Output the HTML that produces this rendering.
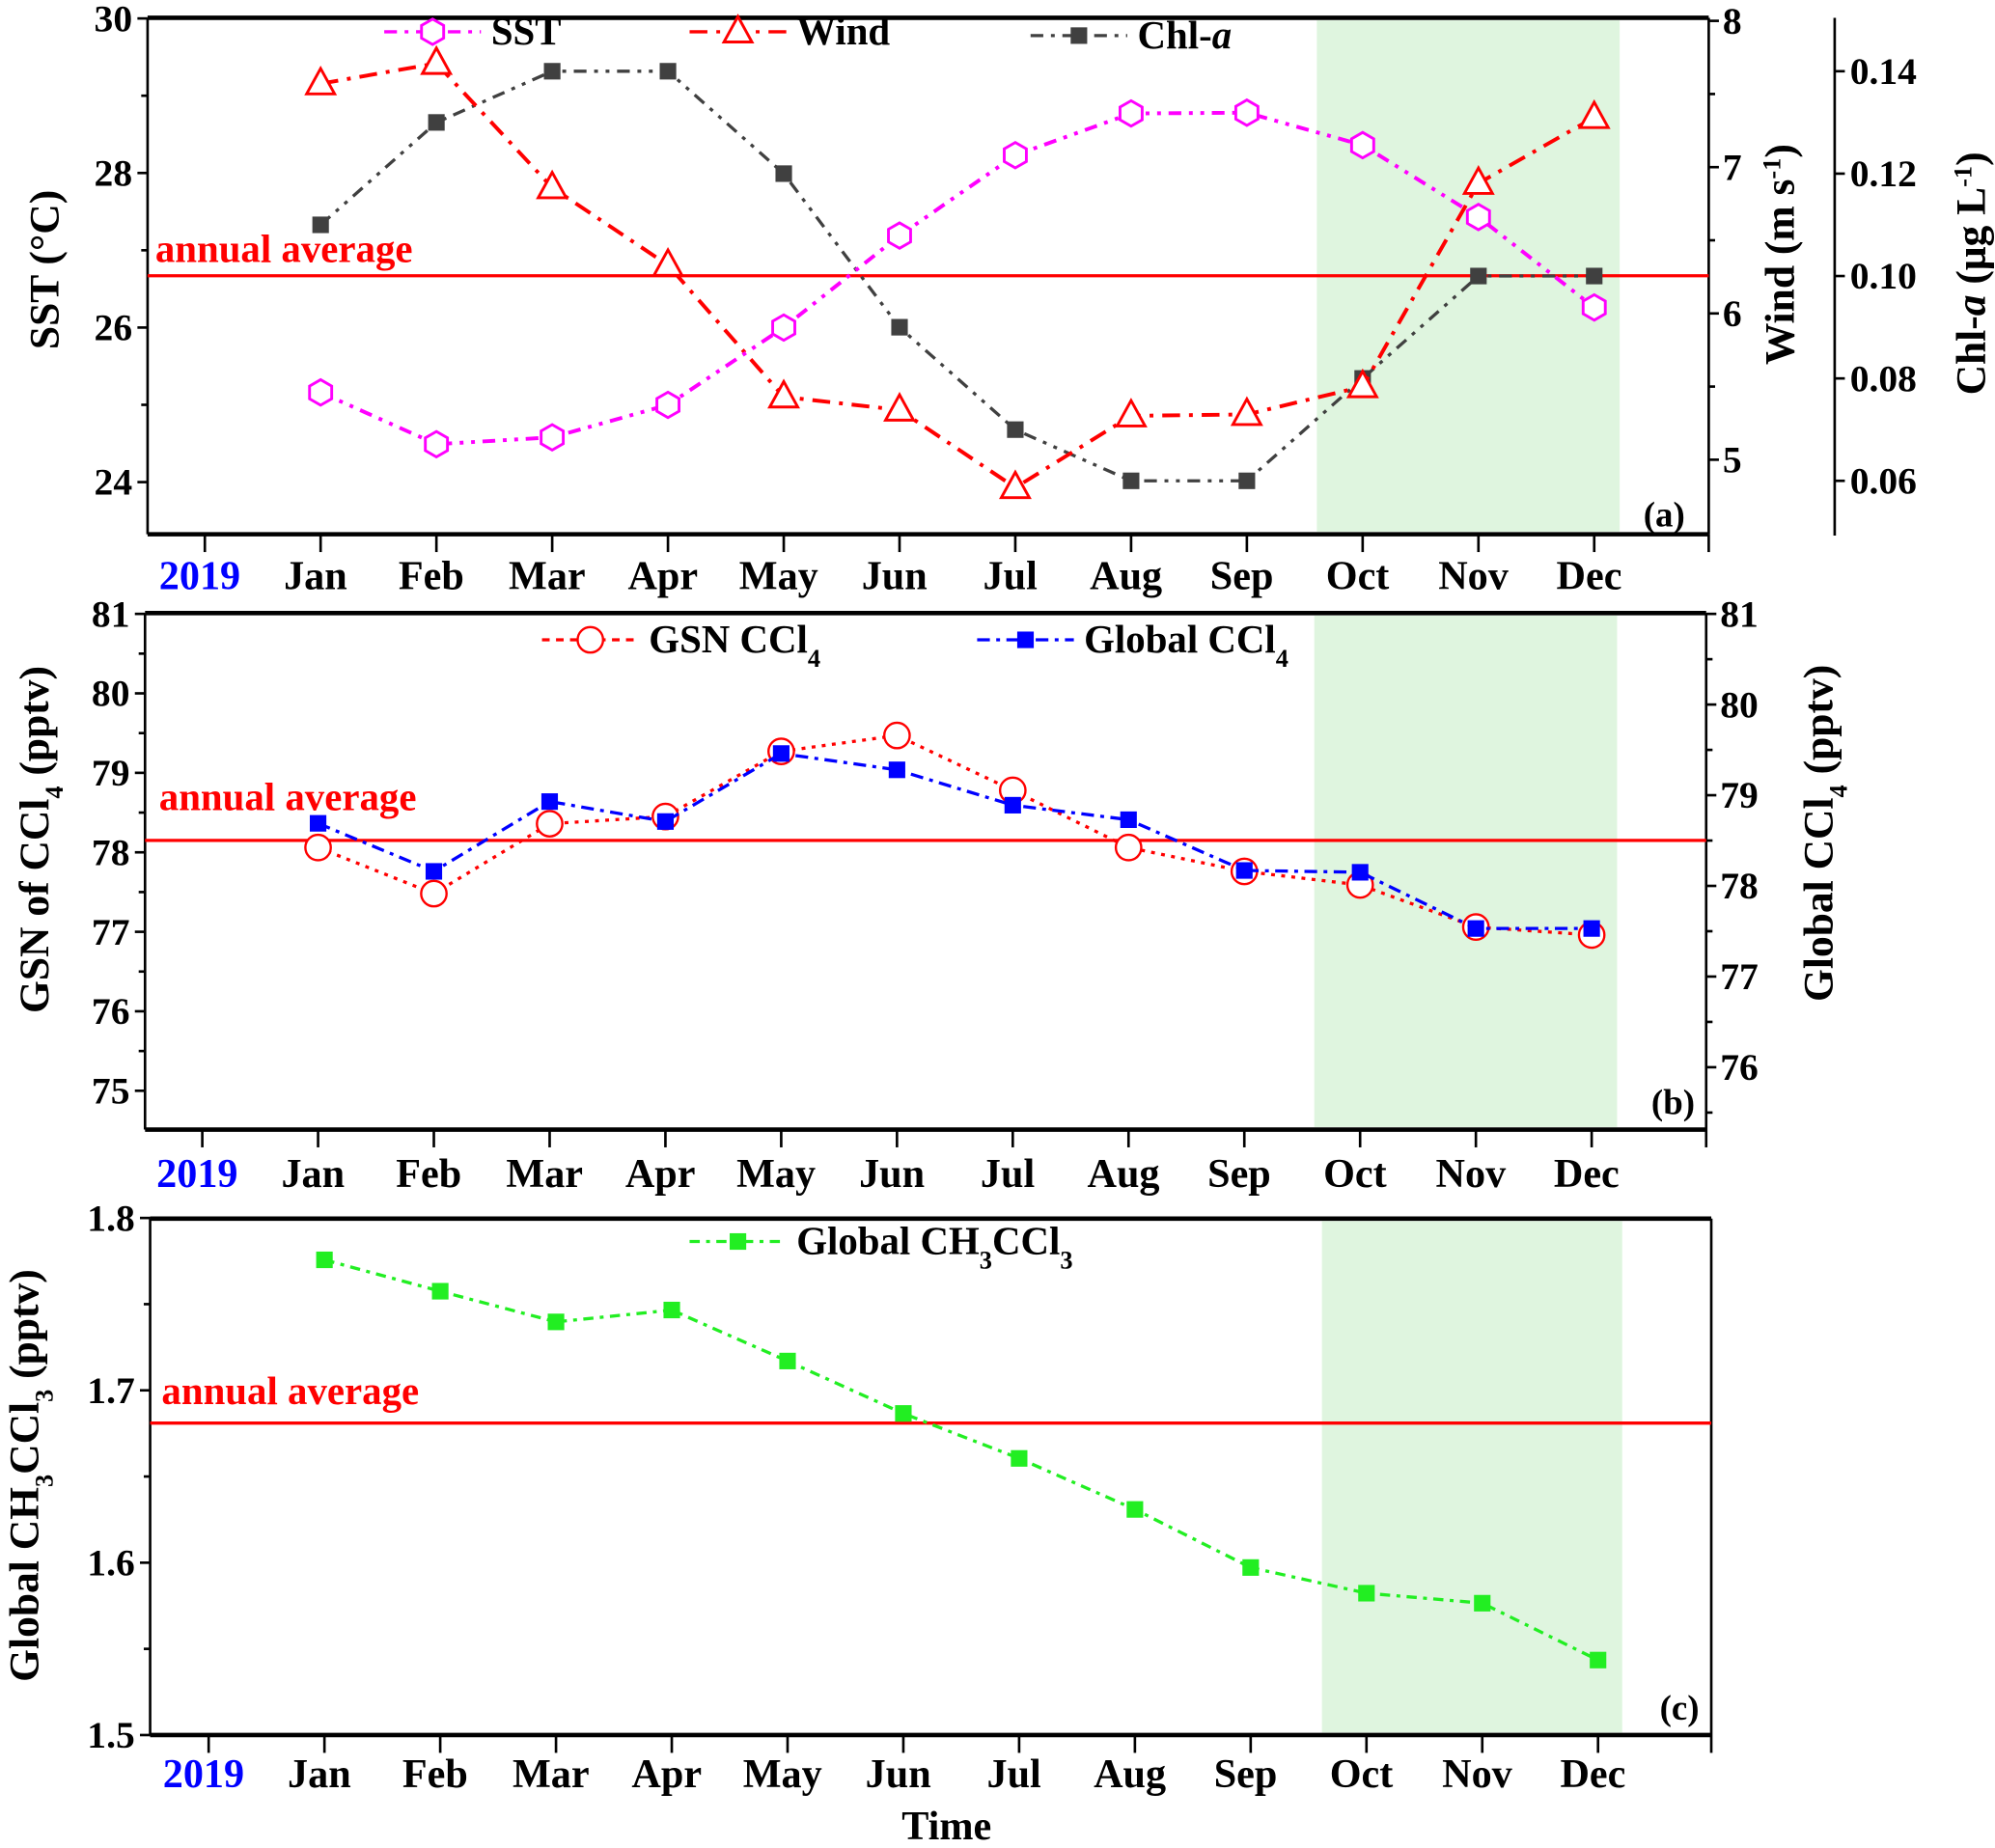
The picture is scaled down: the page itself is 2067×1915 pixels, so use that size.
<!DOCTYPE html>
<html><head><meta charset="utf-8"><style>
html,body{margin:0;padding:0;background:#fff;}
svg, svg text{font-family:"Liberation Serif","Times New Roman",serif;font-weight:bold;}
</style></head><body>
<svg id="chart" xmlns="http://www.w3.org/2000/svg" width="2067" height="1910" viewBox="0 0 1568 1449" preserveAspectRatio="none" font-family="Liberation Serif, serif" font-weight="bold"></svg>
<script>
const months = ["Jan","Feb","Mar","Apr","May","Jun","Jul","Aug","Sep","Oct","Nov","Dec"];
const sstValues = [25.16,24.49,24.58,25.0,26.0,27.19,28.23,28.77,28.78,28.36,27.43,26.26];
const windValues = [7.57,7.71,6.86,6.33,5.43,5.34,4.81,5.30,5.31,5.50,6.89,7.34];
const chlValues = [0.110,0.130,0.140,0.140,0.120,0.090,0.070,0.060,0.060,0.080,0.100,0.100];
const gsnValues = [78.06,77.48,78.36,78.45,79.27,79.47,78.78,78.06,77.76,77.59,77.06,76.96];
const globalCcl4Values = [78.69,78.16,78.93,78.71,79.46,79.28,78.89,78.73,78.17,78.15,77.53,77.53];
const ch3ccl3Values = [1.7757,1.7575,1.7397,1.7466,1.717,1.6866,1.6605,1.6309,1.5972,1.5823,1.5765,1.5435];
const sstTicks = [24,26,28,30];
const windTicks = [5,6,7,8];
const chlTicks = ["0.06","0.08","0.10","0.12","0.14"];
const gsnTicks = [75,76,77,78,79,80,81];
const globalTicks = [76,77,78,79,80,81];
const ch3Ticks = ["1.5","1.6","1.7","1.8"];
const sstAvg = 26.67, gsnAvg = 78.15, ch3Avg = 1.681;

const svg = document.getElementById('chart');
const NS = "http://www.w3.org/2000/svg";
const FONT = "Liberation Serif, serif";
function mk(tag, attrs, parent, text){
  const e = document.createElementNS(NS, tag);
  for (const k in attrs) e.setAttribute(k, attrs[k]);
  if (tag === 'text'){ e.setAttribute('font-family', FONT); e.setAttribute('font-weight','bold'); }
  if (text !== undefined) e.textContent = text;
  (parent || svg).appendChild(e);
  return e;
}
function lin(d0,d1,r0,r1){return v => r0 + (v-d0)*(r1-r0)/(d1-d0);}

function marker(type, x, y, color, g){
  let e;
  if (type === 'hex'){
    const r=10, pts=[];
    for (let i=0;i<6;i++){const a=Math.PI/2+i*Math.PI/3;pts.push((x+r*Math.cos(a)).toFixed(1)+','+(y+r*Math.sin(a)).toFixed(1));}
    e = mk('polygon',{points:pts.join(' '),fill:'#fff',stroke:color,'stroke-width':2.2},g);
  } else if (type === 'tri'){
    e = mk('polygon',{points:`${x},${y-12} ${x-11},${y+8} ${x+11},${y+8}`,fill:'#fff',stroke:color,'stroke-width':2.2},g);
  } else if (type === 'sq'){
    e = mk('rect',{x:x-6.5,y:y-6.5,width:13,height:13,fill:color},g);
  } else if (type === 'circ'){
    e = mk('circle',{cx:x,cy:y,r:10,fill:'#fff',stroke:color,'stroke-width':1.8},g);
  }
  return e;
}

function series(name, vals, xf, yf, color, dash, mtype, width){
  const g = mk('g',{});
  
  
  const pts = vals.map((v,i)=>xf(i).toFixed(1)+','+yf(v).toFixed(1)).join(' ');
  const l = mk('polyline',{points:pts,fill:'none',stroke:color,'stroke-width':width||2.5,'stroke-dasharray':dash},g);
  
  
  vals.forEach((v,i)=>{
    const m = marker(mtype, xf(i), yf(v), color, g);
    
    
  });
}

function panel(o){
  const g = mk('g',{});
  
  
  const sh = mk('rect',{x:o.shadeX0,y:o.top+2,width:o.shadeX1-o.shadeX0,height:o.bottom-o.top-4,fill:'#dff5df'},g);
  
  
  mk('line',{x1:o.left,y1:o.top,x2:o.right,y2:o.top,stroke:'#000','stroke-width':3.5},g);
  mk('line',{x1:o.left,y1:o.bottom,x2:o.right,y2:o.bottom,stroke:'#000','stroke-width':3.5},g);
  mk('line',{x1:o.left,y1:o.top,x2:o.left,y2:o.bottom,stroke:'#000','stroke-width':2},g);
  mk('line',{x1:o.right,y1:o.top,x2:o.right,y2:o.bottom,stroke:'#000','stroke-width':2},g);
  const xt = mk('g',{},g);
  
  
  const tickXs = [o.x0 - o.step].concat(months.map((m,i)=>o.x0+i*o.step)).concat([o.right]);
  tickXs.forEach(x=>mk('line',{x1:x,y1:o.bottom,x2:x,y2:o.bottom+14,stroke:'#000','stroke-width':2},xt));
  const yr = mk('text',{x:o.x0-o.step-4,y:o.labY,'text-anchor':'middle','font-size':32,fill:'#0000ff'},xt,'2019');
  
  
  months.forEach((m,i)=>{
    const t = mk('text',{x:o.x0+i*o.step-4,y:o.labY,'text-anchor':'middle','font-size':32},xt,m);
    
    
  });
  return g;
}

function yAxisLeft(g, ticks, yf, x, minor){
  const ax = mk('g',{},g);
  
  
  ticks.forEach(t=>{
    const y = yf(parseFloat(t));
    mk('line',{x1:x-8,y1:y,x2:x,y2:y,stroke:'#000','stroke-width':2},ax);
    mk('text',{x:x-12,y:y+10,'text-anchor':'end','font-size':30},ax,String(t));
  });
  minor.forEach(v=>{const y=yf(v);mk('line',{x1:x-5,y1:y,x2:x,y2:y,stroke:'#000','stroke-width':2},ax);});
}
function yAxisRight(g, ticks, yf, x, minor, tx){
  const ax = mk('g',{},g);
  
  
  ticks.forEach(t=>{
    const y = yf(parseFloat(t));
    mk('line',{x1:x,y1:y,x2:x+8,y2:y,stroke:'#000','stroke-width':2},ax);
    mk('text',{x:x+(tx||11),y:y+10,'text-anchor':'start','font-size':30},ax,String(t));
  });
  minor.forEach(v=>{const y=yf(v);mk('line',{x1:x,y1:y,x2:x+5,y2:y,stroke:'#000','stroke-width':2},ax);});
}
function vlabel(g, x, y, html, name, size){
  const t = mk('text',{x:0,y:0,transform:`translate(${x},${y}) rotate(-90)`,'text-anchor':'middle','font-size':size||32},g);
  t.innerHTML = html;
  
  
}
function avgLine(g, y, left, right, tx, ty){
  const l = mk('line',{x1:left,y1:y,x2:right,y2:y,stroke:'#ff0000','stroke-width':2.5},g);
  
  
  const t = mk('text',{x:tx,y:ty,'font-size':31,fill:'#ff0000'},g,'annual average');
  
  
}
function legend(g, x, y, color, dash, mtype, html, name){
  const lg = mk('g',{},g);
  
  
  mk('line',{x1:x-38,y1:y,x2:x+38,y2:y,stroke:color,'stroke-width':2.5,'stroke-dasharray':dash},lg);
  marker(mtype,x,y,color,lg);
  const t = mk('text',{x:x+46,y:y+10,'font-size':31},lg);
  t.innerHTML = html;
}
function plabel(g,x,y,s){
  const t = mk('text',{x:x,y:y,'font-size':28,'text-anchor':'middle'},g,s);
  
  
}

/* Panel (a) */
{
  const o = {id:'panel-a',left:116,right:1343,top:14,bottom:420,x0:252,step:91,labY:463,shadeX0:1035,shadeX1:1273};
  const g = panel(o);
  const xf = i => o.x0 + i*o.step;
  const ySST = lin(28,30,136,14.5);
  const yWind = lin(7,8,131.4,16.4);
  const yChl = lin(0.10,0.14,217,56);
  yAxisLeft(g, sstTicks, ySST, o.left, [25,27,29]);
  yAxisRight(g, windTicks, yWind, o.right, [5.5,6.5,7.5]);
  const ca = mk('g',{},g);
  
  
  mk('line',{x1:1442,y1:14,x2:1442,y2:421,stroke:'#000','stroke-width':2},ca);
  yAxisRight(ca, chlTicks, yChl, 1442, [], 12);
  avgLine(g, ySST(sstAvg), o.left, o.right, 122, 206);
  series('chl', chlValues, xf, yChl, '#404040', '10 6 3 6 3 6', 'sq', 2.5);
  series('wind', windValues, xf, yWind, '#ff0000', '14 7 3 7', 'tri', 3);
  series('sst', sstValues, xf, ySST, '#ff00ff', '10 6 3 6 3 6', 'hex', 3);
  legend(g, 340, 25, '#ff00ff', '10 6 3 6', 'hex', 'SST', 'legend-sst');
  legend(g, 580, 25, '#ff0000', '14 7 3 7', 'tri', 'Wind', 'legend-wind');
  legend(g, 848, 28, '#404040', '10 6 3 6', 'sq', 'Chl-<tspan font-style="italic">a</tspan>', 'legend-chl');
  plabel(g, 1308, 414, '(a)');
  vlabel(g, 46, 212, 'SST (°C)', 'sst-axis-title', 33);
  vlabel(g, 1410, 200, 'Wind (m s<tspan baseline-shift="super" font-size="20">-1</tspan>)', 'wind-axis-title', 33);
  vlabel(g, 1560, 215, 'Chl-<tspan font-style="italic">a</tspan> (μg L<tspan baseline-shift="super" font-size="20">-1</tspan>)', 'chl-axis-title', 33);
}

/* Panel (b) */
{
  const o = {id:'panel-b',left:114,right:1341,top:482,bottom:888,x0:250,step:91,labY:933,shadeX0:1033,shadeX1:1271};
  const g = panel(o);
  const xf = i => o.x0 + i*o.step;
  const yL = lin(81,75,482.6,857.5);
  const yR = lin(81,76,482.6,839);
  yAxisLeft(g, gsnTicks, yL, o.left, [75.5,76.5,77.5,78.5,79.5,80.5]);
  yAxisRight(g, globalTicks, yR, o.right, [75.5,76.5,77.5,78.5,79.5,80.5]);
  avgLine(g, yL(gsnAvg), o.left, o.right, 125, 637);
  series('gsn-ccl4', gsnValues, xf, yL, '#ff0000', '3 5', 'circ', 2.5);
  series('global-ccl4', globalCcl4Values, xf, yR, '#0000ff', '10 5 3 5', 'sq', 2.5);
  legend(g, 464, 503, '#ff0000', '6 5', 'circ', 'GSN CCl<tspan baseline-shift="sub" font-size="20">4</tspan>', 'legend-gsn-ccl4');
  legend(g, 806, 503, '#0000ff', '10 5 3 5', 'sq', 'Global CCl<tspan baseline-shift="sub" font-size="20">4</tspan>', 'legend-global-ccl4');
  plabel(g, 1315, 876, '(b)');
  vlabel(g, 38, 660, 'GSN of CCl<tspan baseline-shift="sub" font-size="20">4</tspan> (pptv)', 'gsn-axis-title', 33);
  vlabel(g, 1440, 655, 'Global CCl<tspan baseline-shift="sub" font-size="20">4</tspan> (pptv)', 'global-ccl4-axis-title', 33);
}

/* Panel (c) */
{
  const o = {id:'panel-c',left:118,right:1345,top:958,bottom:1364,x0:255,step:91,labY:1405,shadeX0:1039,shadeX1:1275};
  const g = panel(o);
  const xf = i => o.x0 + i*o.step;
  const y = lin(1.5,1.8,1364,957.5);
  yAxisLeft(g, ch3Ticks, y, o.left, [1.55,1.65,1.75]);
  avgLine(g, y(ch3Avg), o.left, o.right, 127, 1104);
  series('global-ch3ccl3', ch3ccl3Values, xf, y, '#22ee22', '8 5 3 5', 'sq', 2.5);
  legend(g, 580, 976, '#22ee22', '8 5 3 5', 'sq', 'Global CH<tspan baseline-shift="sub" font-size="20">3</tspan>CCl<tspan baseline-shift="sub" font-size="20">3</tspan>', 'legend-global-ch3ccl3');
  plabel(g, 1320, 1352, '(c)');
  vlabel(g, 30, 1160, 'Global CH<tspan baseline-shift="sub" font-size="20">3</tspan>CCl<tspan baseline-shift="sub" font-size="20">3</tspan> (pptv)', 'ch3ccl3-axis-title', 33);
  const t = mk('text',{x:744,y:1446,'text-anchor':'middle','font-size':32},g,'Time');
  
  
}
</script>
</body></html>
